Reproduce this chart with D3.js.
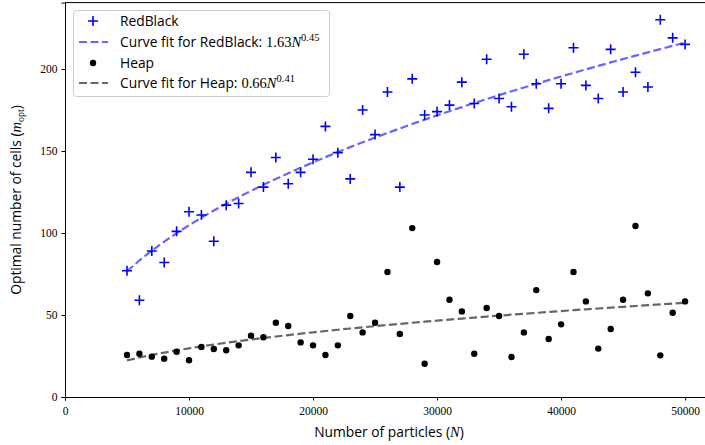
<!DOCTYPE html>
<html>
<head>
<meta charset="utf-8">
<script src="https://cdn.jsdelivr.net/npm/d3@7"></script>
<style>
  body { margin: 0; background: #fff; }
  svg { display: block; }
</style>
</head>
<body>
<svg width="705" height="445"></svg>
<script>
// particle counts
var particles = [5000,6000,7000,8000,9000,10000,11000,12000,13000,14000,15000,16000,17000,18000,19000,20000,
  21000,22000,23000,24000,25000,26000,27000,28000,29000,30000,31000,32000,33000,34000,35000,36000,37000,38000,
  39000,40000,41000,42000,43000,44000,45000,46000,47000,48000,49000,50000];
var redblack = [77,59,89,82,101,113,111,95,117,118,137,128,146,130,137,145,
  165,149,133,175,160,186,128,194,172,174,178,192,179,206,182,177,209,191,
  176,191,213,190,182,212,186,198,189,230,219,215];
var heap = [25.6,26.4,24.6,23.4,27.6,22.4,30.5,29.3,28.5,31.5,37.4,36.4,45.3,43.3,33.3,31.5,
  25.6,31.5,49.4,39.4,45.3,76.2,38.4,103,20.3,82.3,59.3,52.2,26.4,54.3,49.4,24.4,39.4,65.2,
  35.4,44.3,76.2,58.3,29.5,41.5,59.3,104.3,63.2,25.4,51.4,58.3];
// fit params a*N^b
var fitRB = {a: 1.66, b: 0.45};
var fitHeap = {a: 0.68, b: 0.41};
var xTicks = [0,10000,20000,30000,40000,50000];
var yTicks = [0,50,100,150,200];

var sans = "'Open Sans', 'DejaVu Sans', sans-serif";
var serif = "'Liberation Serif', 'DejaVu Serif', serif";

var svg = d3.select("svg");
var x = d3.scaleLinear().domain([0, 52250]).range([65, 713]);
var y = d3.scaleLinear().domain([0, 240.5]).range([397, 2.6]);

// frame
svg.append("line").attr("x1",65).attr("x2",713).attr("y1",2.6).attr("y2",2.6).attr("stroke","#000").attr("stroke-width",1);
svg.append("line").attr("x1",713).attr("x2",713).attr("y1",2.6).attr("y2",397).attr("stroke","#000");

var xAxis = svg.append("g").attr("transform","translate(0,397)")
  .call(d3.axisBottom(x).tickValues(xTicks).tickFormat(d3.format("d")).tickSize(3.5).tickPadding(4));
var yAxis = svg.append("g").attr("transform","translate(65,0)")
  .call(d3.axisLeft(y).tickValues(yTicks).tickSize(3.5).tickPadding(4));
[xAxis, yAxis].forEach(function(g){
  g.attr("font-family", serif).attr("font-size", 11.5);
  g.select(".domain").attr("stroke","#000");
  g.selectAll(".tick line").attr("stroke","#000");
  g.selectAll(".tick text").attr("fill","#000");
});
xAxis.selectAll(".tick text").attr("dy","0.9em");

// fit curves
var line = d3.line().x(function(d){ return x(d[0]); }).y(function(d){ return y(d[1]); });
function fitPts(f){ return particles.map(function(n){ return [n, f.a*Math.pow(n, f.b)]; }); }
svg.append("path").datum(fitPts(fitRB)).attr("d", line).attr("fill","none")
  .attr("stroke","#0000ff").attr("stroke-opacity",0.6).attr("stroke-width",2.2).attr("stroke-dasharray","8,3.5");
svg.append("path").datum(fitPts(fitHeap)).attr("d", line).attr("fill","none")
  .attr("stroke","#000").attr("stroke-opacity",0.6).attr("stroke-width",2.2).attr("stroke-dasharray","8,3.5");

// redblack plus markers
function plus(g, cx, cy, s){
  g.append("path").attr("d","M"+(cx-s)+","+cy+"H"+(cx+s)+"M"+cx+","+(cy-s)+"V"+(cy+s))
    .attr("stroke","#0000ff").attr("stroke-width",1.6).attr("fill","none");
}
var rbG = svg.append("g");
particles.forEach(function(n,i){ plus(rbG, x(n), y(redblack[i]), 5); });

// heap dots
svg.append("g").selectAll("circle").data(particles).join("circle")
  .attr("cx", function(d){ return x(d); })
  .attr("cy", function(d,i){ return y(heap[i]); })
  .attr("r", 3.2).attr("fill","#000");

// axis labels
var xl = svg.append("text").attr("x",389).attr("y",437).attr("text-anchor","middle")
  .style("font-family",sans).style("font-size","13.8px");
xl.append("tspan").text("Number of particles (");
xl.append("tspan").text("N").style("font-family",serif).style("font-style","italic").style("font-size","14.5px");
xl.append("tspan").text(")");

var yl = svg.append("text").attr("transform","translate(21,200) rotate(-90)").attr("text-anchor","middle")
  .style("font-family",sans).style("font-size","13.8px");
yl.append("tspan").text("Optimal number of cells (");
yl.append("tspan").text("m").style("font-family",serif).style("font-style","italic").style("font-size","14.5px");
yl.append("tspan").text("opt").style("font-family",serif).style("font-size","10px").attr("dy","3");
yl.append("tspan").text(")").attr("dy","-3");

// legend
var lg = svg.append("g");
lg.append("rect").attr("x",73.5).attr("y",10.5).attr("width",256).attr("height",86).attr("rx",3)
  .attr("fill","#fff").attr("fill-opacity",0.8).attr("stroke","#ccc");
var rows = [21, 42, 63, 83];
plus(lg, 93, rows[0], 5);
lg.append("line").attr("x1",79).attr("x2",108).attr("y1",rows[1]).attr("y2",rows[1])
  .attr("stroke","#0000ff").attr("stroke-opacity",0.6).attr("stroke-width",2.2).attr("stroke-dasharray","8,3.5");
lg.append("circle").attr("cx",93).attr("cy",rows[2]).attr("r",3.2).attr("fill","#000");
lg.append("line").attr("x1",79).attr("x2",108).attr("y1",rows[3]).attr("y2",rows[3])
  .attr("stroke","#000").attr("stroke-opacity",0.6).attr("stroke-width",2.2).attr("stroke-dasharray","8,3.5");

function legText(yy, label, coef, expo){
  var t = lg.append("text").attr("x",120).attr("y",yy+4.5).style("font-family",sans).style("font-size","13.8px");
  t.append("tspan").text(label);
  if (coef) {
    t.append("tspan").text(coef).attr("dx",4).style("font-family",serif).style("font-size","14.5px");
    t.append("tspan").text("N").style("font-family",serif).style("font-style","italic").style("font-size","14.5px");
    t.append("tspan").text(expo).style("font-family",serif).style("font-size","10.5px").attr("dy","-6");
  }
}
legText(rows[0], "RedBlack");
legText(rows[1], "Curve fit for RedBlack:", "1.63", "0.45");
legText(rows[2], "Heap");
legText(rows[3], "Curve fit for Heap:", "0.66", "0.41");
</script>
</body>
</html>
